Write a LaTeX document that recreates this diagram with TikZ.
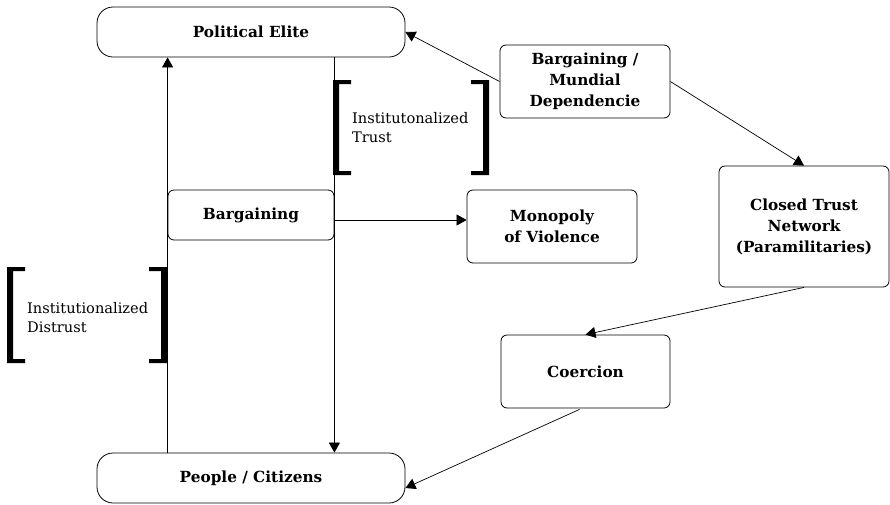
\documentclass[tikz,border=0pt]{standalone}
\usepackage{fontspec}
\setmainfont{DejaVu Serif}
\usetikzlibrary{arrows.meta,calc}
\begin{document}
\begin{tikzpicture}[x=1pt,y=-1pt,
  box/.style={draw=black,line width=0.8pt,rounded corners=6pt,align=center,
    inner sep=0pt,font=\fontsize{15.3}{21}\selectfont\bfseries},
  pill/.style={box,rounded corners=16pt},
  conn/.style={line width=0.7pt,-{Triangle[length=10pt,width=11pt]}},
  lbl/.style={align=left,inner sep=0pt,anchor=west,font=\fontsize{14.6}{19}\selectfont},
  brk/.style={fill=black,draw=none}]
\useasboundingbox (0,0) rectangle (890,504);
% nodes
\node[pill,minimum width=308pt,minimum height=50pt] (pol) at (251,32) {Political Elite};
\node[pill,minimum width=308pt,minimum height=50pt] (ppl) at (251,478) {People / Citizens};
\node[box,minimum width=166pt,minimum height=50pt] (barg) at (251,215) {Bargaining};
\node[box,minimum width=170pt,minimum height=73pt] (mono) at (552,226.5) {Monopoly\\of Violence};
\node[box,minimum width=170pt,minimum height=73pt] (mund) at (585,81.5) {Bargaining /\\Mundial\\Dependencie};
\node[box,minimum width=170pt,minimum height=121pt] (ctn) at (804,226.5) {Closed Trust\\Network\\(Paramilitaries)};
\node[box,minimum width=169pt,minimum height=73pt] (coer) at (585.5,371.5) {Coercion};
% labels
\node[lbl] (trust) at (352,127.5) {Institutonalized\\Trust};
\node[lbl] (distrust) at (27,317.5) {Institutionalized\\Distrust};
% brackets
\fill[brk] (333,80)--(351,80)--(351,84)--(339,84)--(339,171)--(351,171)--(351,175)--(333,175)--cycle;
\fill[brk] (489,80)--(471,80)--(471,84)--(483,84)--(483,171)--(471,171)--(471,175)--(489,175)--cycle;
\fill[brk] (7,267)--(25,267)--(25,271)--(13,271)--(13,359)--(25,359)--(25,363)--(7,363)--cycle;
\fill[brk] (167,267)--(149,267)--(149,271)--(161,271)--(161,359)--(149,359)--(149,363)--(167,363)--cycle;
% connectors
\draw[conn] (barg.west |- ppl.north) -- (barg.west |- pol.south);
\draw[conn] (barg.east |- pol.south) -- (barg.east |- ppl.north);
\coordinate (bargout) at ($(barg.east)+(0,5)$);
\draw[conn] (bargout) -- (bargout -| mono.west);
\draw[conn] (mund.west) -- (pol.east);
\draw[conn] (mund.east) -- (ctn.north);
\draw[conn] (ctn.south) -- (coer.north);
\coordinate (pplin) at ($(ppl.east)+(0,10)$);
\draw[conn] ($(coer.south)+(-6,1)$) -- (pplin);
\end{tikzpicture}
\end{document}
